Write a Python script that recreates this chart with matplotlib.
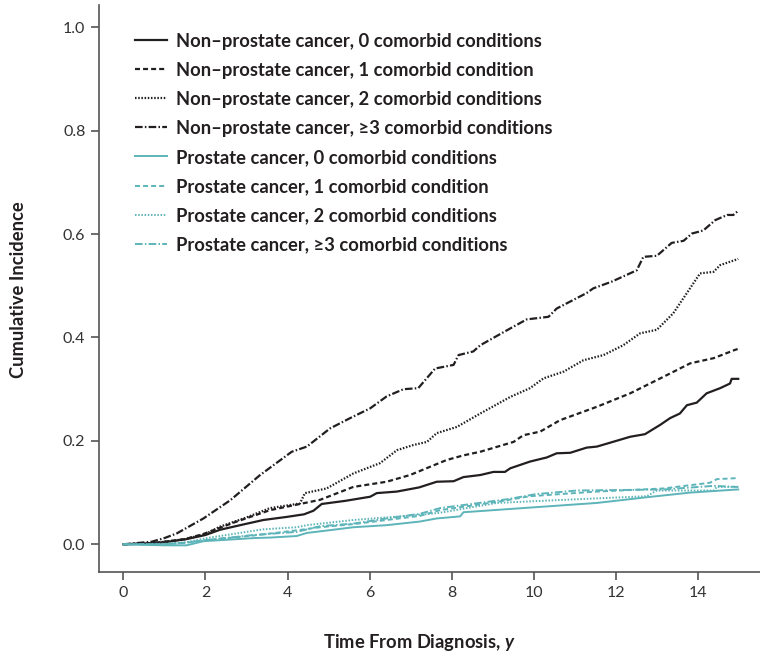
import matplotlib
matplotlib.use("Agg")
import matplotlib.pyplot as plt

# ---------------- data ----------------
np0_x = [0, 0.7, 1.0, 1.54, 2.0, 2.35, 2.9, 3.41, 3.98, 4.4, 4.63, 4.83, 5.4, 6.01, 6.17, 6.66, 7.2, 7.63,
         8.04, 8.28, 8.69, 9.01, 9.29, 9.42, 9.9, 10.31, 10.55, 10.88, 11.28, 11.53, 12.34, 12.7, 13.07,
         13.31, 13.55, 13.72, 13.96, 14.2, 14.53, 14.77, 14.81, 14.97]
np0_y = [0, 0.002, 0.004, 0.01, 0.018, 0.028, 0.038, 0.047, 0.053, 0.058, 0.065, 0.078, 0.084, 0.092, 0.099,
         0.102, 0.11, 0.121, 0.122, 0.13, 0.134, 0.14, 0.14, 0.147, 0.16, 0.168, 0.176, 0.177, 0.187, 0.189,
         0.208, 0.213, 0.231, 0.244, 0.253, 0.269, 0.274, 0.292, 0.302, 0.311, 0.32, 0.32]

np1_x = [0, 0.7, 1.0, 1.5, 1.95, 2.76, 3.57, 4.3, 4.79, 5.6, 6.41, 6.98, 7.47, 7.87, 8.28, 8.69, 9.5, 9.74,
         10.15, 10.63, 11.53, 12.34, 13.15, 13.8, 14.37, 14.89, 14.97]
np1_y = [0, 0.002, 0.005, 0.01, 0.02, 0.044, 0.066, 0.078, 0.086, 0.111, 0.121, 0.134, 0.15, 0.163, 0.172,
         0.179, 0.198, 0.211, 0.218, 0.24, 0.266, 0.292, 0.324, 0.35, 0.36, 0.376, 0.378]

np2_x = [0, 0.7, 1.0, 1.5, 2.0, 2.35, 3.0, 3.57, 4.3, 4.42, 4.95, 5.6, 6.25, 6.66, 7.06, 7.39, 7.63, 8.12,
         8.69, 9.42, 9.9, 10.23, 10.72, 11.2, 11.69, 12.17, 12.58, 12.99, 13.39, 13.72, 14.04, 14.37, 14.53,
         14.9, 14.97]
np2_y = [0, 0.002, 0.005, 0.01, 0.02, 0.034, 0.052, 0.07, 0.079, 0.099, 0.108, 0.137, 0.157, 0.182, 0.192,
         0.198, 0.215, 0.227, 0.253, 0.285, 0.302, 0.321, 0.334, 0.356, 0.366, 0.385, 0.408, 0.415, 0.447,
         0.486, 0.524, 0.527, 0.54, 0.55, 0.552]

np3_x = [0, 0.69, 1.0, 1.3, 1.95, 2.6, 3.33, 4.1, 4.47, 5.03, 5.52, 6.01, 6.41, 6.82, 7.18, 7.59, 8.04, 8.16,
         8.52, 8.69, 9.34, 9.82, 10.35, 10.55, 11.28, 11.44, 11.89, 12.5, 12.66, 12.99, 13.35, 13.64, 13.84,
         14.12, 14.41, 14.7, 14.85, 14.97]
np3_y = [0, 0.005, 0.012, 0.021, 0.05, 0.085, 0.134, 0.179, 0.189, 0.224, 0.244, 0.263, 0.286, 0.30, 0.302,
         0.34, 0.347, 0.366, 0.373, 0.385, 0.414, 0.435, 0.44, 0.456, 0.486, 0.495, 0.508, 0.53, 0.556, 0.558,
         0.583, 0.587, 0.601, 0.607, 0.627, 0.637, 0.637, 0.645]

p0_x = [0, 1.0, 1.54, 1.95, 3.17, 3.57, 4.22, 4.47, 5.2, 5.6, 6.41, 7.22, 7.63, 8.2, 8.28, 9.9, 11.53, 12.74,
        13.8, 14.94, 14.97]
p0_y = [0, -0.002, -0.002, 0.006, 0.012, 0.013, 0.016, 0.022, 0.029, 0.033, 0.037, 0.044, 0.05, 0.054, 0.062,
        0.071, 0.08, 0.091, 0.1, 0.106, 0.106]

p1_x = [0, 1.0, 1.5, 2.0, 3.17, 4.22, 4.79, 5.6, 6.41, 7.22, 7.71, 9.09, 9.9, 11.53, 13.15, 14.28, 14.45,
        14.94, 14.97]
p1_y = [0, 0.0, 0.003, 0.008, 0.017, 0.027, 0.033, 0.039, 0.047, 0.055, 0.066, 0.082, 0.093, 0.102, 0.108,
        0.119, 0.126, 0.128, 0.128]

p2_x = [0, 1.0, 1.54, 2.03, 3.0, 3.41, 4.22, 4.47, 5.6, 6.41, 7.22, 7.71, 9.09, 10.72, 12.74, 12.99, 14.37,
        14.45, 14.94, 14.97]
p2_y = [0, 0.001, 0.004, 0.012, 0.024, 0.029, 0.033, 0.037, 0.047, 0.052, 0.057, 0.061, 0.08, 0.086, 0.093,
        0.104, 0.104, 0.111, 0.111, 0.111]

p3_x = [0, 1.0, 1.5, 2.0, 3.17, 4.22, 4.79, 5.6, 6.41, 7.22, 7.71, 9.34, 10.04, 11.04, 13.15, 14.37, 14.94,
        14.97]
p3_y = [0, 0.0, 0.003, 0.008, 0.018, 0.024, 0.035, 0.04, 0.05, 0.059, 0.07, 0.087, 0.097, 0.104, 0.106,
        0.113, 0.111, 0.111]

labels = [
    "Non\u2013prostate cancer, 0 comorbid conditions",
    "Non\u2013prostate cancer, 1 comorbid condition",
    "Non\u2013prostate cancer, 2 comorbid conditions",
    "Non\u2013prostate cancer, \u22653 comorbid conditions",
    "Prostate cancer, 0 comorbid conditions",
    "Prostate cancer, 1 comorbid condition",
    "Prostate cancer, 2 comorbid conditions",
    "Prostate cancer, \u22653 comorbid conditions",
]
x_ticks = [0, 2, 4, 6, 8, 10, 12, 14]
y_ticks = [0.0, 0.2, 0.4, 0.6, 0.8, 1.0]

# ---------------- style ----------------
plt.rcParams["font.family"] = ["Lato", "DejaVu Sans"]
plt.rcParams["lines.scale_dashes"] = False
plt.rcParams["mathtext.fontset"] = "custom"
plt.rcParams["mathtext.it"] = "Lato:italic:bold"
plt.rcParams["mathtext.rm"] = "Lato:bold"

BLACK = "#231f20"
TEAL = "#5db4b9"
solid = "-"
dashed = (0, (3.6, 2.2))
dotted = (0, (1.1, 1.2))
dashdot = (0, (5.5, 1.6, 1.1, 1.6))

fig = plt.figure(figsize=(7.6, 6.56), dpi=100)
W, H = 760, 656
ax = fig.add_axes([99.3 / W, (H - 571.7) / H, (760 - 99.3) / W, (571.7 - 5) / H])

series = [
    (np0_x, np0_y, BLACK, solid, 1.6),
    (np1_x, np1_y, BLACK, dashed, 1.6),
    (np2_x, np2_y, BLACK, dotted, 1.6),
    (np3_x, np3_y, BLACK, dashdot, 1.6),
    (p0_x, p0_y, TEAL, solid, 1.4),
    (p1_x, p1_y, TEAL, dashed, 1.4),
    (p2_x, p2_y, TEAL, dotted, 1.4),
    (p3_x, p3_y, TEAL, dashdot, 1.4),
]
handles = []
for (xs, ys, c, ls, lw), lab in zip(series, labels):
    h, = ax.plot(xs, ys, color=c, linestyle=ls, linewidth=lw, label=lab)
    handles.append(h)

ax.set_xlim(-0.585, 15.5)
ax.set_ylim(-0.053, 1.0431)
ax.set_xticks(x_ticks)
ax.set_xticklabels([str(v) for v in x_ticks])
ax.set_yticks(y_ticks)
ax.set_yticklabels([f"{v:.1f}" for v in y_ticks])

for s in ["top", "right"]:
    ax.spines[s].set_visible(False)
for s in ["left", "bottom"]:
    ax.spines[s].set_color("#555555")
    ax.spines[s].set_linewidth(1.2)
ax.tick_params(axis="both", direction="out", length=6, width=1.2, color="#555555",
               labelsize=11.5, labelcolor="#333333", pad=4)

ax.set_ylabel("Cumulative Incidence", fontsize=13.2, fontweight="bold", color="#231f20")
ax.yaxis.set_label_coords(-0.110, 0.497)
ax.set_xlabel(r"Time From Diagnosis, $\mathit{y}$", fontsize=13.2, fontweight="bold", color="#231f20")
ax.xaxis.set_label_coords(0.485, -0.106)

leg = ax.legend(handles=handles, loc="upper left",
                bbox_to_anchor=(135 / W, 1 - 32.5 / H), bbox_transform=fig.transFigure,
                frameon=False, fontsize=13.2, handlelength=1.75, handletextpad=0.46,
                labelspacing=0.66, borderaxespad=0, borderpad=0)
for t in leg.get_texts():
    t.set_fontweight("bold")
    t.set_color("#231f20")

fig.savefig("out.png", dpi=100)
